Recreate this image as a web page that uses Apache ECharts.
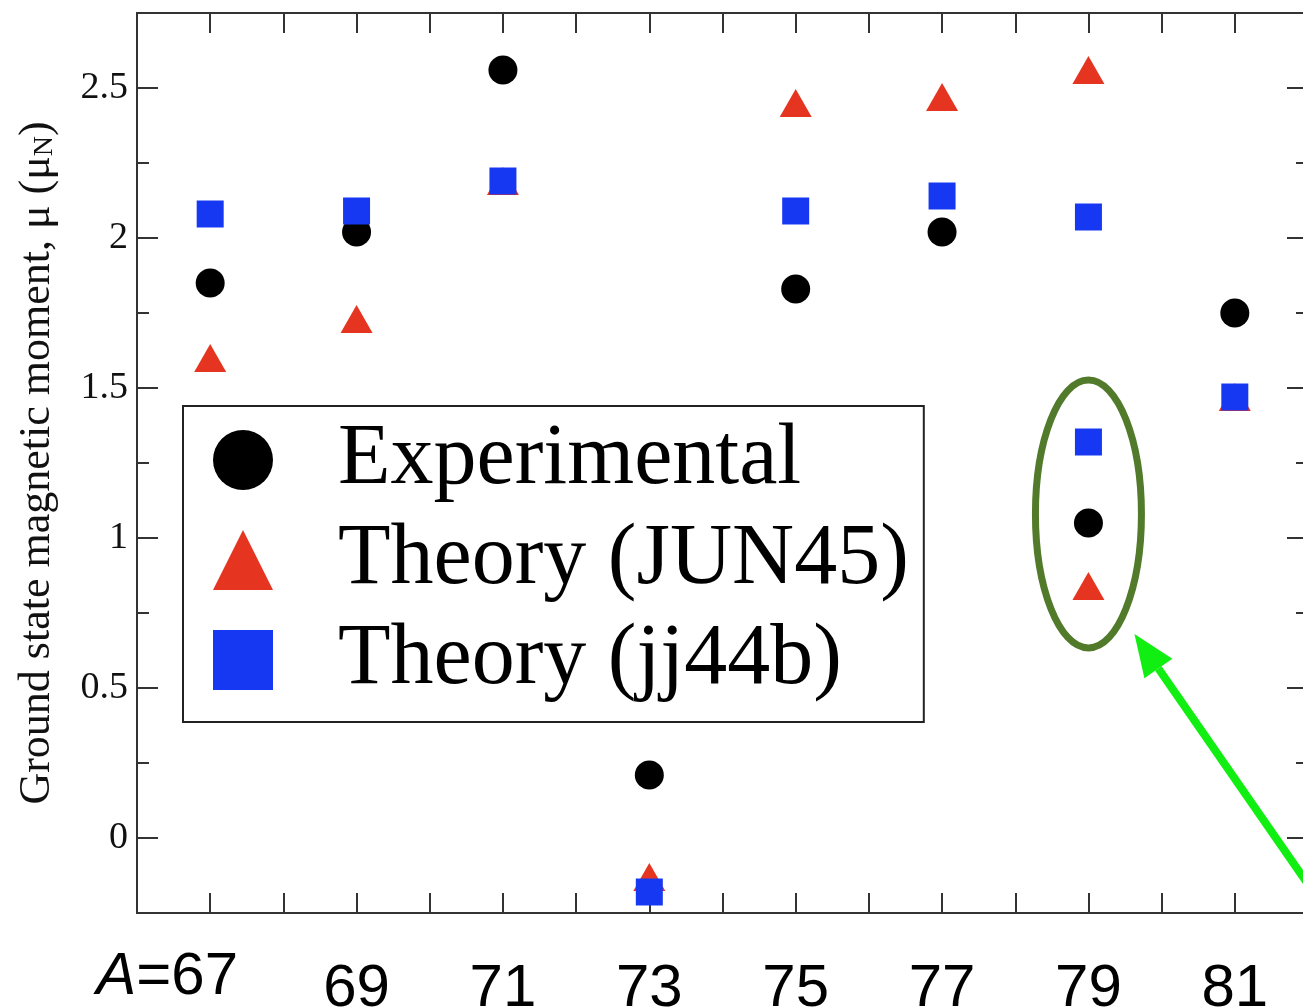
<!DOCTYPE html>
<html>
<head>
<meta charset="utf-8">
<script src="https://cdn.jsdelivr.net/npm/echarts@6/dist/echarts.min.js"></script>
<style>
  html, body { margin: 0; padding: 0; background: #fff; }
  #main { width: 1303px; height: 1008px; }
</style>
</head>
<body>
<div id="main"></div>
<script>
// mass number A of each isotope
const massNumbers = [67, 69, 71, 73, 75, 77, 79, 81];
// ground state magnetic moments (mu_N)
const expMu = [1.85, 2.02, 2.56, 0.21, 1.83, 2.02, 1.05, 1.75];
const jun45Mu = [1.60, 1.73, 2.19, -0.13, 2.45, 2.47, 2.56, 1.47];
const jj44bMu = [2.08, 2.09, 2.19, -0.18, 2.09, 2.14, 2.07, 1.47];
// second theory values at A=79 (the circled state)
const circledA = [79];
const circledJun45 = [0.84];
const circledJj44b = [1.32];
// axis ticks
const yMajorTicks = [0, 0.5, 1, 1.5, 2, 2.5];
const yMinorTicks = [-0.25, 0.25, 0.75, 1.25, 1.75, 2.25, 2.75];

const serif = '"Liberation Serif", "DejaVu Serif", serif';
const sans = '"Liberation Sans", Arial, sans-serif';
const axisColor = '#333';

function pairs(xs, ys) {
  return xs.map((x, i) => [x, ys[i]]);
}

var myChart = echarts.init(document.getElementById('main'), null, { renderer: 'canvas' });

function xAxisDef(pos, showLabels) {
  return {
    type: 'value',
    position: pos,
    min: 66,
    max: 82,
    interval: 1,
    axisLine: { show: true, onZero: false, lineStyle: { color: axisColor, width: 2 } },
    axisTick: { show: true, inside: true, length: 20, lineStyle: { color: axisColor, width: 2 } },
    splitLine: { show: false },
    axisLabel: {
      show: showLabels,
      margin: 34,
      color: '#000',
      fontFamily: sans,
      fontSize: 60,
      formatter: function (v) {
        if (v % 2 === 0 || v < 67 || v > 81) return '';
        if (v === 67) return '{it|A}{n|=67}{gap|}';
        return '{d|' + v + '}';
      },
      rich: {
        it: { fontFamily: sans, fontSize: 60, fontStyle: 'italic', color: '#000' },
        n: { fontFamily: sans, fontSize: 60, color: '#000' },
        gap: { width: 86 },
        d: { fontFamily: sans, fontSize: 60, color: '#000', padding: [12, 0, 0, 0] }
      }
    }
  };
}

function yAxisDef(pos, ticks, len, showLabels, withName) {
  const ax = {
    type: 'value',
    position: pos,
    min: -0.25,
    max: 2.75,
    axisLine: { show: true, onZero: false, lineStyle: { color: axisColor, width: 2 } },
    axisTick: { show: true, inside: true, length: len, customValues: ticks, lineStyle: { color: axisColor, width: 2 } },
    splitLine: { show: false },
    axisLabel: {
      show: showLabels,
      customValues: ticks,
      margin: 9,
      color: '#111',
      fontFamily: serif,
      fontSize: 38,
      formatter: function (v) { return String(v); }
    }
  };
  if (withName) {
    ax.name = 'Ground state magnetic moment, μ (μ{sub|N})';
    ax.nameLocation = 'middle';
    ax.nameRotate = 90;
    ax.nameGap = 78;
    ax.nameTextStyle = {
      fontFamily: serif,
      fontSize: 44,
      color: '#111',
      rich: {
        sub: { fontFamily: serif, fontSize: 28, color: '#111', verticalAlign: 'bottom', padding: [16, 0, 0, 0] }
      }
    };
  }
  return ax;
}

let option = {
  backgroundColor: '#fff',
  animation: false,
  grid: {
    left: 137,
    top: 13,
    right: -5,
    bottom: 95,
    containLabel: false,
    outerBoundsMode: 'none'
  },
  xAxis: [xAxisDef('bottom', true), xAxisDef('top', false)],
  yAxis: [
    yAxisDef('left', yMajorTicks, 21, true, true),
    yAxisDef('left', yMinorTicks, 12, false, false),
    yAxisDef('right', yMajorTicks, 21, false, false),
    yAxisDef('right', yMinorTicks, 12, false, false)
  ],
  legend: {
    orient: 'vertical',
    left: 183,
    top: 406,
    padding: [11, 15, 19, 30],
    itemGap: 14,
    itemWidth: 60,
    itemHeight: 60,
    backgroundColor: '#fff',
    borderColor: '#222',
    borderWidth: 2,
    textStyle: {
      fontFamily: serif,
      fontSize: 86,
      color: '#000',
      padding: [0, 0, 0, 60]
    },
    data: [
      { name: 'Experimental', icon: 'circle' },
      { name: 'Theory (JUN45)', icon: 'triangle' },
      { name: 'Theory (jj44b)', icon: 'rect' }
    ]
  },
  series: [
    {
      name: 'Experimental',
      type: 'scatter',
      symbol: 'circle',
      symbolSize: 29,
      itemStyle: { color: '#000', opacity: 1 },
      data: pairs(massNumbers, expMu)
    },
    {
      name: 'Theory (JUN45)',
      type: 'scatter',
      symbol: 'triangle',
      symbolSize: [32, 28],
      itemStyle: { color: '#e5341f', opacity: 1 },
      data: pairs(massNumbers, jun45Mu).concat(pairs(circledA, circledJun45))
    },
    {
      name: 'Theory (jj44b)',
      type: 'scatter',
      symbol: 'rect',
      symbolSize: 27,
      itemStyle: { color: '#1638f2', opacity: 1 },
      data: pairs(massNumbers, jj44bMu).concat(pairs(circledA, circledJj44b))
    }
  ]
};
myChart.setOption(option);

// ellipse round the second A=79 state and the arrow pointing at it
const midY = (Math.min(circledJun45[0], circledJj44b[0]) + Math.max(circledJun45[0], circledJj44b[0])) / 2;
const c = myChart.convertToPixel({ xAxisIndex: 0, yAxisIndex: 0 }, [circledA[0], midY]);
const tip = [c[0] + 46, c[1] + 120];
const u = [0.570, 0.822];
const headLen = 42, headHalf = 17;
const base = [tip[0] + u[0] * headLen, tip[1] + u[1] * headLen];
const tail = [tip[0] + u[0] * 340, tip[1] + u[1] * 340];
myChart.setOption({
  graphic: [
    {
      type: 'ellipse',
      shape: { cx: c[0], cy: c[1], rx: 53, ry: 134 },
      style: { fill: 'none', stroke: '#527a2b', lineWidth: 7 },
      z: 100
    },
    {
      type: 'polyline',
      shape: { points: [base, tail] },
      style: { stroke: '#11ee11', lineWidth: 8, fill: null },
      z: 100
    },
    {
      type: 'polygon',
      shape: {
        points: [
          tip,
          [base[0] - u[1] * headHalf, base[1] + u[0] * headHalf],
          [base[0] + u[1] * headHalf, base[1] - u[0] * headHalf]
        ]
      },
      style: { fill: '#11ee11' },
      z: 100
    }
  ]
});
</script>
</body>
</html>
